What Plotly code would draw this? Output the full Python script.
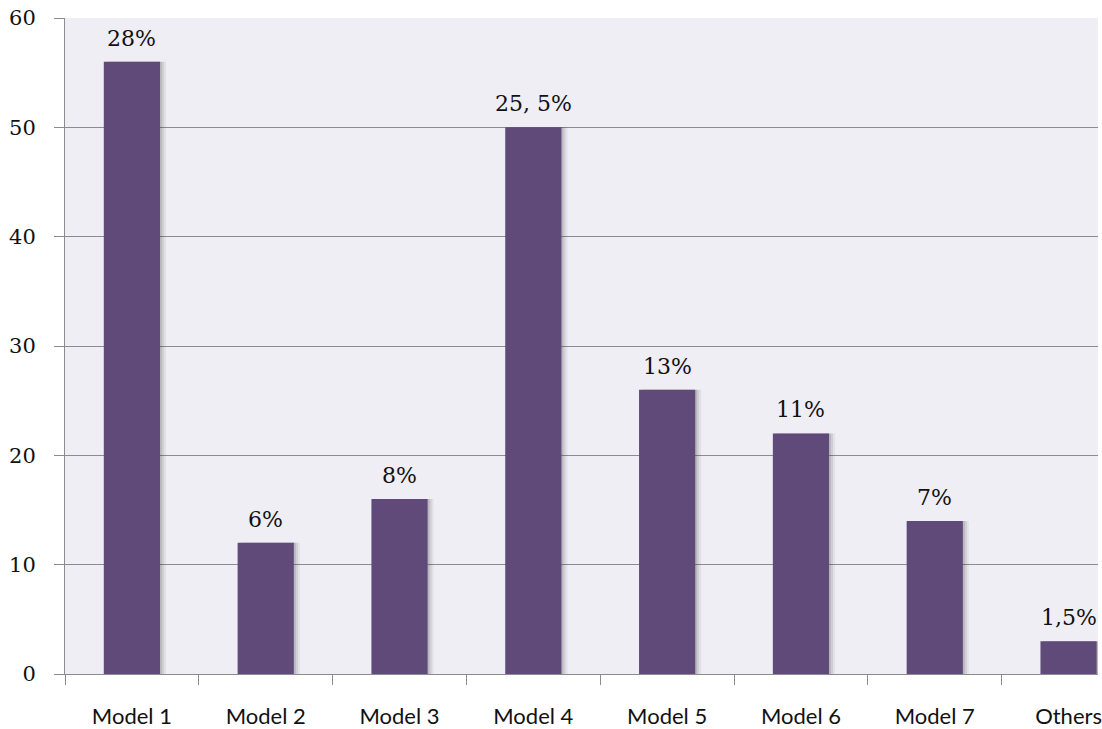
import plotly.graph_objects as go

categories = ["Model 1", "Model 2", "Model 3", "Model 4", "Model 5", "Model 6", "Model 7", "Others"]
values = [56, 12, 16, 50, 26, 22, 14, 3]
labels = ["28%", "6%", "8%", "25, 5%", "13%", "11%", "7%", "1,5%"]
y_ticks = [0, 10, 20, 30, 40, 50, 60]

bar_color = "#5F4A7A"
grid_color = "#8C8C8C"

fig = go.Figure()
# soft shadow behind bars (layered for a fading edge)
for off, alpha in [(0.045, 0.07), (0.03, 0.10), (0.015, 0.14)]:
    fig.add_trace(go.Bar(
        x=categories, y=values, width=0.42, offset=-0.21 + off,
        marker=dict(color=f"rgba(50,50,50,{alpha})", line=dict(width=0)),
        hoverinfo="skip", showlegend=False,
    ))
fig.add_trace(go.Bar(
    x=categories, y=values, width=0.42, offset=-0.21,
    marker=dict(color=bar_color, line=dict(width=0)),
    showlegend=False,
))

for c, v, t in zip(categories, values, labels):
    fig.add_annotation(
        x=c, y=v, text=t, showarrow=False, yanchor="bottom", yshift=9,
        font=dict(family="DejaVu Serif", size=22, color="#111111"),
    )

fig.update_layout(
    width=1102, height=729,
    margin=dict(l=65, r=0, t=18, b=55),
    paper_bgcolor="white",
    plot_bgcolor="#F0EEF5",
    barmode="overlay",
    xaxis=dict(
        type="category",
        range=[-0.5, 7.22],
        showline=True, linecolor=grid_color, linewidth=1,
        ticks="outside", tickson="boundaries", ticklen=10, tickcolor=grid_color,
        tickfont=dict(family="Lato", size=22, color="#111111"),
        ticklabelstandoff=23,
        showgrid=False,
    ),
    yaxis=dict(
        range=[0, 60], tickvals=y_ticks,
        showline=True, linecolor=grid_color, linewidth=1,
        ticks="outside", ticklen=10, tickcolor=grid_color,
        tickfont=dict(family="DejaVu Serif", size=21, color="#111111"),
        ticklabelstandoff=14,
        showgrid=True, gridcolor=grid_color, gridwidth=1,
        zeroline=False,
    ),
)

fig.write_html(
    "out.html",
    config={"displayModeBar": False},
    post_script="document.body.style.margin='0';document.body.style.overflow='hidden';",
)
